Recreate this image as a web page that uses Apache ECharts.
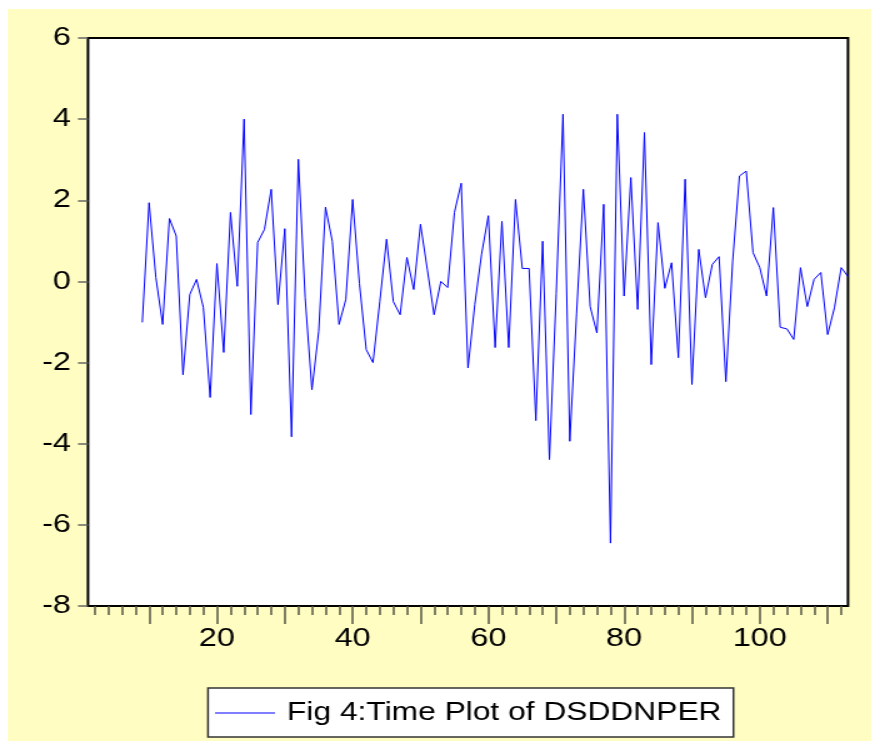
<!DOCTYPE html>
<html>
<head>
<meta charset="utf-8">
<script src="https://cdn.jsdelivr.net/npm/echarts@6/dist/echarts.min.js"></script>
<style>
  html, body { margin: 0; padding: 0; background: #ffffff; overflow: hidden; }
  #bg { position: absolute; left: 8px; top: 9px; width: 863px; height: 732px; background: #FFFDC2; }
  #chart { position: absolute; left: 0; top: 0; height: 744px; transform-origin: 0 0; }
</style>
</head>
<body>
<div id="bg"></div>
<div id="chart"></div>
<script>
// ---- data ----
const seriesName = 'Fig 4:Time Plot of DSDDNPER';
const firstObs = 9;
const values = [
  -1.01, 1.94, 0.1, -1.06, 1.55, 1.12, -2.3, -0.32, 0.05, -0.64,
  -2.86, 0.44, -1.75, 1.7, -0.12, 4.0, -3.28, 0.96, 1.28, 2.27,
  -0.57, 1.3, -3.83, 3.01, -0.4, -2.67, -1.23, 1.83, 0.99, -1.06,
  -0.44, 2.02, -0.05, -1.68, -2.0, -0.5, 1.04, -0.5, -0.82, 0.59,
  -0.2, 1.41, 0.3, -0.82, 0.0, -0.15, 1.7, 2.42, -2.13, -0.57,
  0.67, 1.62, -1.63, 1.48, -1.63, 2.02, 0.32, 0.32, -3.43, 0.99,
  -4.39, -0.3, 4.12, -3.94, -0.8, 2.27, -0.62, -1.27, 1.9, -6.45,
  4.12, -0.36, 2.56, -0.69, 3.67, -2.05, 1.45, -0.17, 0.46, -1.88,
  2.52, -2.54, 0.79, -0.4, 0.42, 0.61, -2.47, 0.5, 2.6, 2.72,
  0.71, 0.34, -0.36, 1.82, -1.13, -1.17, -1.43, 0.34, -0.62, 0.05,
  0.22, -1.31, -0.65, 0.34, 0.12
];
const xMin = 1, xMax = 113;
const yMin = -8, yMax = 6, yStep = 2;
const xLabelEvery = 20;

// ---- layout (reference pixels; the original figure is stretched horizontally) ----
const S = 1.25;                 // horizontal stretch of the original figure
const W = 878, H = 744;
const CW = W / S;               // chart canvas width before stretch
const plotL = 88, plotR = 848, plotT = 38, plotB = 606;
const sx = v => v / S;          // reference x -> canvas x
const pxPerUnit = (plotR - plotL) / (xMax - xMin);
const px = v => plotL + (v - xMin) * pxPerUnit;
const font = 'Arial, "Liberation Sans", sans-serif';

const el = document.getElementById('chart');
el.style.width = CW + 'px';
el.style.transform = 'scaleX(' + S + ')';

const data = values.map((v, i) => [firstObs + i, v]);

const chart = echarts.init(el, null, { renderer: 'canvas', width: CW, height: H });
const option = {
  animation: false,
  backgroundColor: 'transparent',
  textStyle: { fontFamily: font },
  grid: [
    { left: sx(plotL), right: CW - sx(plotR), top: plotT, bottom: H - plotB, show: true,
      backgroundColor: '#ffffff', borderColor: '#000000', borderWidth: 2, z: 0 },
    { left: sx(px(2)), right: CW - sx(px(112)), top: plotT, bottom: H - plotB },
    { left: sx(px(10)), right: CW - sx(px(110)), top: plotT, bottom: H - plotB }
  ],
  xAxis: [
    { gridIndex: 0, type: 'value', min: xMin, max: xMax,
      axisLine: { show: false, onZero: false }, axisTick: { show: false }, axisLabel: { show: false }, splitLine: { show: false } },
    { gridIndex: 1, type: 'value', min: 2, max: 112, interval: 2, position: 'bottom',
      axisLine: { show: false, onZero: false }, axisLabel: { show: false }, splitLine: { show: false },
      axisTick: { show: true, length: 9, lineStyle: { color: '#555544', width: 1.5 } } },
    { gridIndex: 2, type: 'value', min: 10, max: 110, interval: 10, position: 'bottom',
      axisLine: { show: false, onZero: false }, splitLine: { show: false },
      axisTick: { show: true, length: 18, lineStyle: { color: '#555544', width: 1.5 } },
      axisLabel: { show: true, margin: 20, color: '#000000', fontSize: 26, fontFamily: font,
        formatter: v => (v % xLabelEvery === 0 ? String(v) : '') } }
  ],
  yAxis: [
    { gridIndex: 0, type: 'value', min: yMin, max: yMax, interval: yStep,
      axisLine: { show: false }, splitLine: { show: false },
      axisTick: { show: true, length: sx(10), lineStyle: { color: '#666666', width: 1.5 } },
      axisLabel: { show: true, margin: sx(17), color: '#000000', fontSize: 26, fontFamily: font } },
    { gridIndex: 1, type: 'value', min: yMin, max: yMax, show: false },
    { gridIndex: 2, type: 'value', min: yMin, max: yMax, show: false }
  ],
  legend: {
    show: true,
    left: sx(208), top: 688,
    orient: 'horizontal',
    backgroundColor: '#ffffff',
    borderColor: '#333333', borderWidth: 1.5,
    padding: [11, sx(12), 10, sx(7)],
    icon: 'rect', itemWidth: sx(60), itemHeight: 1,
    textStyle: { fontSize: 25.4, color: '#000000', fontFamily: font, padding: [0, 0, 0, sx(12) - 5], lineHeight: 28 },
    data: [seriesName]
  },
  series: [
    { name: seriesName, type: 'line', xAxisIndex: 0, yAxisIndex: 0, data: data,
      showSymbol: false, symbol: 'none',
      lineStyle: { color: '#0000FF', width: 1 }, itemStyle: { color: '#0000FF' },
      clip: true, z: 3 }
  ]
};
chart.setOption(option);
</script>
</body>
</html>
